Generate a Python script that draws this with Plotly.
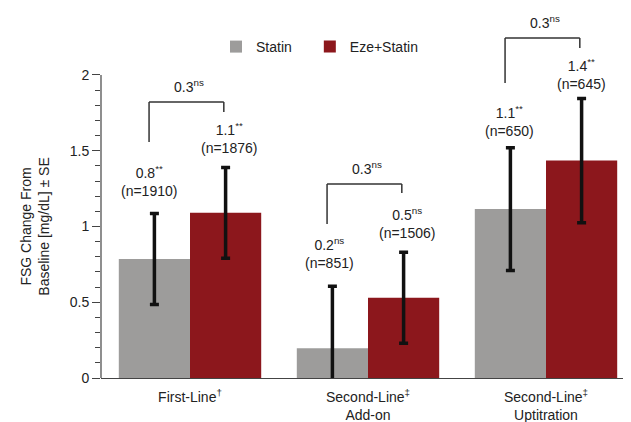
import plotly.graph_objects as go

# ---- data ----
categories = ["First-Line<sup>†</sup>", "Second-Line<sup>‡</sup><br>Add-on", "Second-Line<sup>‡</sup><br>Uptitration"]
statin_vals = [0.785, 0.196, 1.115]
statin_err = [0.30, 0.41, 0.405]
eze_vals = [1.09, 0.53, 1.435]
eze_err = [0.30, 0.30, 0.41]
statin_labels = ["0.8<sup>**</sup><br>(n=1910)", "0.2<sup>ns</sup><br>(n=851)", "1.1<sup>**</sup><br>(n=650)"]
eze_labels = ["1.1<sup>**</sup><br>(n=1876)", "0.5<sup>ns</sup><br>(n=1506)", "1.4<sup>**</sup><br>(n=645)"]
diff_labels = ["0.3<sup>ns</sup>", "0.3<sup>ns</sup>", "0.3<sup>ns</sup>"]
y_ticks = [0, 0.5, 1, 1.5, 2]
y_tick_text = ["0", "0.5", "1", "1.5", "2"]
y_minor = [0.1, 0.2, 0.3, 0.4, 0.6, 0.7, 0.8, 0.9, 1.1, 1.2, 1.3, 1.4, 1.6, 1.7, 1.8, 1.9]
# comparison brackets (left foot, top, right foot) in data units
bracket_left = [1.558, 1.016, 1.947]
bracket_top = [1.822, 1.280, 2.244]
bracket_right = [1.756, 1.221, 2.178]

# ---- style ----
GRAY = "#9d9c9b"
RED = "#8c171c"
AXIS = "#444444"
TXT = "#222222"
FONT = "Liberation Sans, Arial, sans-serif"
Y_MAX = 2.442
X_MIN, X_MAX = -0.5, 2.4775

x = list(range(len(categories)))

fig = go.Figure()
fig.add_trace(go.Bar(
    x=x, y=statin_vals, name="Statin", marker=dict(color=GRAY, line=dict(width=0)),
    error_y=dict(type="data", array=statin_err, color="#111111", thickness=3.5, width=4.5),
    legend="legend",
))
fig.add_trace(go.Bar(
    x=x, y=eze_vals, name="Eze+Statin", marker=dict(color=RED, line=dict(width=0)),
    error_y=dict(type="data", array=eze_err, color="#111111", thickness=3.5, width=4.5),
    legend="legend2",
))

annotations = []
shapes = []
s_xshift = [-5, -3, -1]
e_xshift = [3, 3, 0]
s_yshift = [13, 13, 7]
e_yshift = [9, 9, 4]
for i in x:
    annotations.append(dict(x=i - 0.2, y=statin_vals[i] + statin_err[i], xref="x", yref="y",
                            text=statin_labels[i], showarrow=False, yanchor="bottom",
                            xshift=s_xshift[i], yshift=s_yshift[i],
                            font=dict(size=14, color=TXT, family=FONT)))
    annotations.append(dict(x=i + 0.2, y=eze_vals[i] + eze_err[i], xref="x", yref="y",
                            text=eze_labels[i], showarrow=False, yanchor="bottom",
                            xshift=e_xshift[i], yshift=e_yshift[i],
                            font=dict(size=14, color=TXT, family=FONT)))
    xl, xr = i - 0.23, i + 0.19
    line = dict(color="#333333", width=1.5)
    shapes.append(dict(type="line", xref="x", yref="y", x0=xl, x1=xl, y0=bracket_left[i], y1=bracket_top[i], line=line))
    shapes.append(dict(type="line", xref="x", yref="y", x0=xl, x1=xr, y0=bracket_top[i], y1=bracket_top[i], line=line))
    shapes.append(dict(type="line", xref="x", yref="y", x0=xr, x1=xr, y0=bracket_right[i], y1=bracket_top[i], line=line))
    annotations.append(dict(x=(xl + xr) / 2, y=bracket_top[i], xref="x", yref="y",
                            text=diff_labels[i], showarrow=False, yanchor="bottom", yshift=5, xshift=3,
                            font=dict(size=14, color=TXT, family=FONT)))

# y axis title
annotations.append(dict(x=-0.16, y=1, xref="paper", yref="y", textangle=-90,
                        text="FSG Change From<br>Baseline [mg/dL] ± SE", showarrow=False,
                        font=dict(size=14, color=TXT, family=FONT)))
# y axis line (only up to 2)
shapes.append(dict(type="line", xref="paper", yref="paper", x0=0, x1=0, y0=0, y1=2 / Y_MAX,
                   line=dict(color=AXIS, width=1.2)))

legend_style = dict(orientation="h", xanchor="left", yanchor="middle", y=0.8946,
                    font=dict(size=14, color=TXT, family=FONT), bgcolor="rgba(0,0,0,0)")

fig.update_layout(
    width=631, height=422,
    margin=dict(l=93, r=8, t=0, b=52, autoexpand=False),
    paper_bgcolor="white", plot_bgcolor="white",
    barmode="group", bargap=0.2, bargroupgap=0,
    font=dict(family=FONT, size=14, color=TXT),
    showlegend=True,
    legend=dict(x=0.217, **legend_style),
    legend2=dict(x=0.394, **legend_style),
    xaxis=dict(range=[X_MIN, X_MAX], tickmode="array", tickvals=x, ticktext=categories,
               automargin=False, ticklabelstandoff=6,
               showline=True, linecolor=AXIS, linewidth=1.2, ticks="", showgrid=False,
               zeroline=False, tickfont=dict(size=14, color=TXT, family=FONT)),
    yaxis=dict(range=[0, Y_MAX], tickmode="array", tickvals=y_ticks, ticktext=y_tick_text,
               automargin=False,
               showline=False, ticks="outside", ticklen=8, tickcolor=AXIS, tickwidth=1.2,
               showgrid=False, zeroline=False, tickfont=dict(size=14, color=TXT, family=FONT),
               minor=dict(tickmode="array", tickvals=y_minor, ticks="outside", ticklen=5,
                          tickcolor=AXIS, tickwidth=1.2, showgrid=False)),
    annotations=annotations,
    shapes=shapes,
)

fig.write_html("out.html")
